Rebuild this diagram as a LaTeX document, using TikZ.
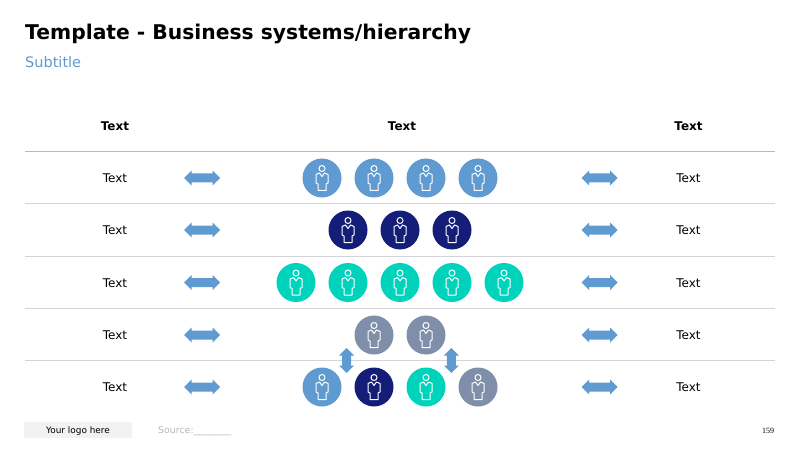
\documentclass[tikz,border=0pt]{standalone}
\usepackage{fontspec}
\setmainfont{DejaVu Sans}
\newfontfamily\pagefont{Liberation Serif}
\usetikzlibrary{shapes.arrows}
\definecolor{sky}{HTML}{5F9BD1}
\definecolor{navy}{HTML}{141E78}
\definecolor{teal}{HTML}{00D3BC}
\definecolor{slate}{HTML}{7F8FA9}
\definecolor{rulegray}{HTML}{D2D4D8}
\definecolor{ruleblue}{HTML}{9BBFE6}
\tikzset{x=1pt,y=-1pt,
  cell/.style={inner sep=0pt,font=\fontsize{12}{14}\selectfont,text=black},
  head/.style={cell,font=\fontsize{12}{14}\selectfont\bfseries},
  twoway/.style={double arrow,fill=sky,draw=none,minimum height=36pt,
    inner xsep=0pt,inner ysep=4.3pt,double arrow head extend=3pt},
  updown/.style={twoway,shape border rotate=90,minimum height=25pt,inner xsep=4.3pt,inner ysep=0pt},
  disc/.style={circle,minimum size=39pt,inner sep=0pt,draw=none},
  person/.pic={
    \draw[white,line width=1pt] (0,-9.5) circle (3);
    \draw[white,line width=1pt,line join=round] (-2.5,-5) -- (0,-1.5) -- (2.5,-5) -- (6,-3.5) -- (6,5)
      -- (4,6) -- (4,12.5) -- (-4,12.5) -- (-4,6) -- (-6,5) -- (-6,-3.5) -- cycle;
  }}
\begin{document}
\begin{tikzpicture}
\useasboundingbox (0,0) rectangle (800,449);
\fill[white] (0,0) rectangle (800,449);
% title
\node[anchor=west,inner sep=0pt,font=\fontsize{20.3}{24}\selectfont\bfseries] (title) at (25,33.5) {Template - Business systems/hierarchy};
\node[anchor=west,inner sep=0pt,text=sky,font=\fontsize{14.5}{17}\selectfont] (subtitle) at (25,62) {Subtitle};
% table head
\node[head] (headl) at (115,126) {Text};
\node[head] (headm) at (402,126) {Text};
\node[head] (headr) at (688.5,126) {Text};
\foreach \ly/\lcol in {204/rulegray,256/rulegray,308.5/rulegray,360.5/rulegray,151.5/ruleblue}
  \fill[\lcol] (25,\ly-0.5) rectangle (775,\ly+0.5);
% rows
\foreach \ry/\rname in {178/one,230/two,282.5/three,335/four,387/five}{
  \node[cell] (left\rname) at (115,\ry+0.4) {Text};
  \node[cell] (right\rname) at (688.5,\ry+0.4) {Text};
  \node[twoway] (arrl\rname) at (202,\ry) {};
  \node[twoway] (arrr\rname) at (599.5,\ry) {};
}
% people
\foreach \px/\py/\pcol in {
  322/178/sky,374/178/sky,426/178/sky,478/178/sky,
  348/230/navy,400/230/navy,452/230/navy,
  296/282.5/teal,348/282.5/teal,400/282.5/teal,452/282.5/teal,504/282.5/teal,
  374/335/slate,426/335/slate,
  322/387/sky,374/387/navy,426/387/teal,478/387/slate}{
  \node[disc,fill=\pcol] (p\px-\py) at (\px,\py) {};
  \pic at (\px,\py) {person};
}
\node[updown] (upl) at (346.7,360.5) {};
\node[updown] (upr) at (451.3,360.5) {};
% footer
\node[fill=black!5,minimum width=108pt,minimum height=16pt,inner sep=0pt,text depth=0pt,font=\fontsize{8.9}{11}\selectfont] (logo) at (78,430.3) {Your logo here};
\node[anchor=west,inner sep=0pt,text=black!28,font=\fontsize{9.4}{11}\selectfont] (source) at (158,431) {Source:\_\_\_\_\_\_\_\_};
\node[inner sep=0pt,font=\fontsize{8}{9}\pagefont] (pageno) at (768,431) {159};
\end{tikzpicture}
\end{document}
